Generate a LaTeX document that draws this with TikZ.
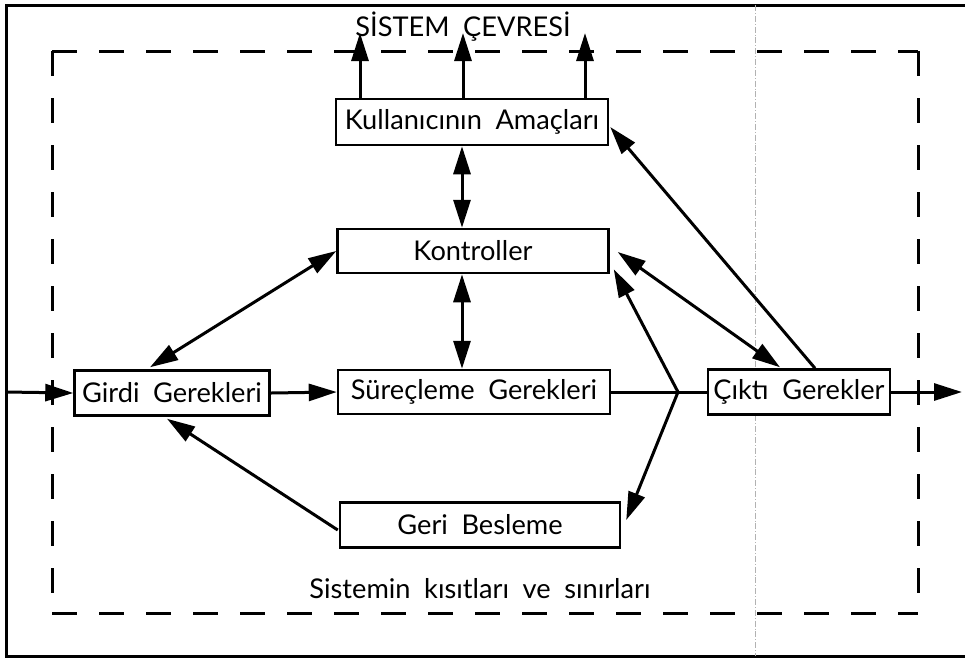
\documentclass[tikz,border=0pt]{standalone}
\usepackage{fontspec}
\setmainfont{Lato}
\usetikzlibrary{arrows.meta,calc}

\newcommand{\blkfont}{\fontsize{13.6}{15}\selectfont\spaceskip=0.5em\relax}

\tikzset{
  tip/.tip={Triangle[length=14pt,width=8.5pt]},
  blk/.style={draw, line width=1.25pt, fill=white, inner sep=0pt, font=\blkfont},
  flow/.style={line width=1.5pt, -tip},
  both/.style={line width=1.5pt, tip-tip},
  plain/.style={line width=1.5pt},
  bound/.style={line width=1.5pt, dash pattern=on 12.5pt off 11pt},
  lbl/.style={font=\blkfont},
}

\begin{document}
\begin{tikzpicture}[x=0.5pt, y=-0.5pt]
  \useasboundingbox (0,0) rectangle (965,661);

  % outer frame
  \draw[line width=1.5pt] (965,5) -- (6,5) -- (6,656) -- (965,656);
  % faint fold line
  \draw[gray!60, line width=0.4pt, densely dash dot] (755,5) -- (755,656);

  % system boundary
  \draw[bound] (52,51) -- (918,51);
  \draw[bound] (52,51) -- (52,613);
  \draw[bound] (52,613) -- (918,613);
  \draw[bound] (918,51) -- (918,613);

  % labels
  \node[lbl] (env) at (463,27) {SİSTEM ÇEVRESİ};
  \node[lbl] (lim) at (480,589) {Sistemin kısıtları ve sınırları};

  % blocks (sizes in pt, half of the coordinate units)
  \node[blk, minimum width=136pt,  minimum height=23pt]   (kul)  at (472,122) {Kullanıcının Amaçları};
  \node[blk, minimum width=135.5pt, minimum height=22pt]  (kon)  at (473,251) {Kontroller};
  \node[blk, minimum width=97.5pt, minimum height=22.5pt] (gir)  at (172,393) {Girdi Gerekleri};
  \node[blk, minimum width=136pt,  minimum height=22pt]   (sur)  at (474,392) {Süreçleme Gerekleri};
  \node[blk, minimum width=91pt,   minimum height=22.5pt] (cik)  at (799,392) {Çıktı Gerekler};
  \node[blk, minimum width=140pt,  minimum height=22.5pt] (geri) at (480,525) {Geri Besleme};

  % helper coordinates
  \coordinate (vx) at (462,0);
  \coordinate (u1) at (360,33);
  \coordinate (u2) at (463,33);
  \coordinate (u3) at (585,33);
  \coordinate (in) at (6,392);
  \coordinate (out) at (962,392);
  \coordinate (j) at (678,392);

  % outputs to the environment
  \draw[flow] (u1 |- kul.north) -- (u1);
  \draw[flow] (u2 |- kul.north) -- (u2);
  \draw[flow] (u3 |- kul.north) -- (u3);

  % control links
  \draw[both] (vx |- kul.south) -- (vx |- kon.north);
  \draw[both] (vx |- kon.south) -- (vx |- sur.north);
  \draw[both] (kon.west) -- ($(gir.north)+(-22,-2)$);
  \draw[both] ($(kon.east)+(8,1)$) -- ($(cik.north)+(-19,-1)$);
  \draw[flow] ($(cik.north)+(16,0)$) -- ($(kul.east)+(1,5)$);

  % main flow
  \draw[flow] (in) -- (gir.west);
  \draw[flow] (gir.east) -- (sur.west);
  \draw[plain] (sur.east) -- (j) -- (cik.west);
  \draw[flow] (cik.east) -- (out);

  % feedback branch
  \draw[flow] (j) -- ($(kon.south east)+(4,-5)$);
  \draw[flow] (j) -- ($(geri.east)+(5,-5)$);
  \draw[flow] ($(geri.west)+(-1,5)$) -- ($(gir.south)+(-5,2)$);
\end{tikzpicture}
\end{document}
